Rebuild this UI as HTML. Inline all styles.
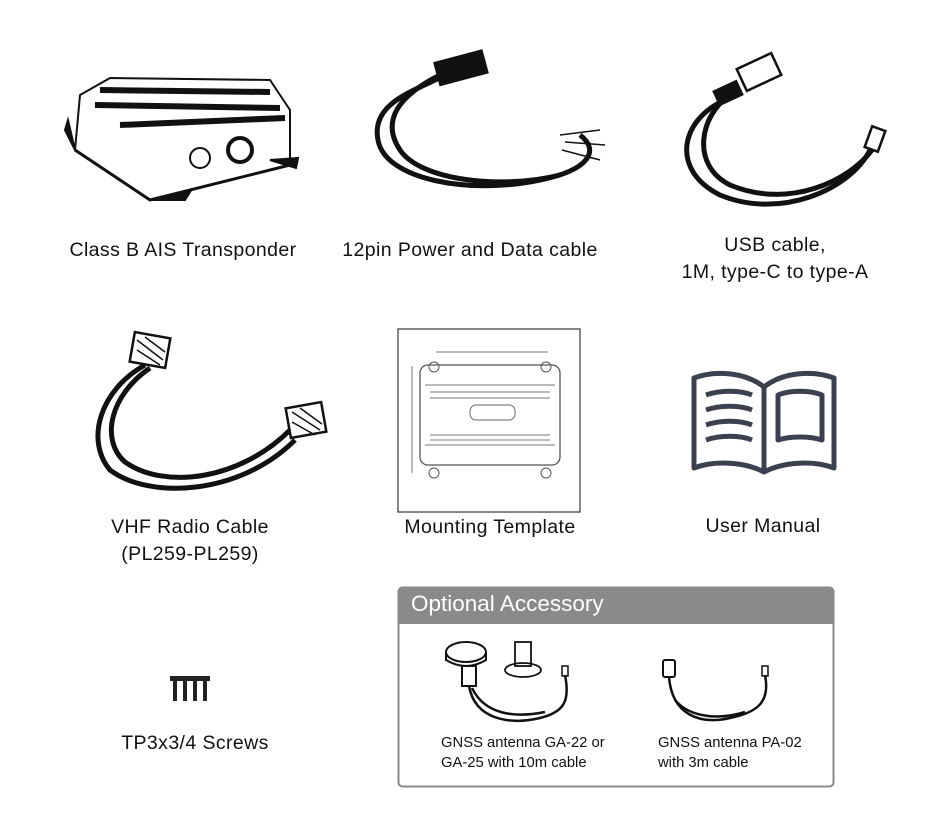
<!DOCTYPE html>
<html><head><style>
body{margin:0;background:#fff;width:930px;height:822px;position:relative;overflow:hidden;font-family:"Liberation Sans",sans-serif;color:#111}
.t{position:absolute;font-size:19.5px;letter-spacing:0.4px;text-align:center;line-height:27px;white-space:nowrap}
.s{position:absolute;font-size:14.8px;line-height:20px;white-space:nowrap}
</style></head><body>
<svg width="930" height="822" style="position:absolute;left:0;top:0" fill="none" stroke="#111">
<!-- transponder -->
<g stroke-width="2">
<path d="M80 95 L110 78 L270 80 L290 110 L290 165 L150 200 L75 150 Z" fill="#fff"/>
<path d="M75 150 L150 200 L290 165" stroke-width="3"/>
<path d="M100 90 L270 92 M95 105 L280 108 M120 125 L285 118" stroke-width="6"/>
<circle cx="200" cy="158" r="10"/><circle cx="240" cy="150" r="12" stroke-width="4"/>
<path d="M68 120 L75 150 L65 130 Z M150 200 L190 192 L185 200 Z M270 160 L298 158 L296 168 Z" fill="#111"/>
</g>
<!-- 12pin cable -->
<g stroke-width="5">
<path d="M455 70 C420 90 370 100 378 140 C385 180 470 195 540 180 C590 170 600 150 580 135"/>
<path d="M440 75 C400 95 380 120 400 150 C420 180 500 190 560 175"/>
<rect x="438" y="58" width="46" height="20" fill="#111" transform="rotate(-15 460 68)"/>
</g>
<path d="M560 135 L600 130 M565 142 L605 145 M562 150 L600 160" stroke-width="1.5"/>
<!-- USB -->
<g stroke-width="5">
<path d="M725 100 C680 120 670 170 720 195 C780 220 850 190 870 150"/>
<path d="M730 95 C700 115 690 165 730 185 C790 210 850 180 872 150"/>
</g>
<rect x="740" y="60" width="38" height="24" fill="#fff" stroke-width="2.5" transform="rotate(-25 759 72)"/>
<rect x="715" y="85" width="26" height="16" fill="#111" transform="rotate(-25 728 93)"/>
<rect x="868" y="128" width="14" height="22" fill="#fff" stroke-width="2.5" transform="rotate(20 875 139)"/>
<!-- VHF -->
<g stroke-width="5">
<path d="M145 365 C100 390 85 440 110 470 C150 500 240 495 295 440"/>
<path d="M150 368 C110 395 100 440 125 462 C165 490 240 480 290 430"/>
</g>
<rect x="132" y="335" width="36" height="30" fill="#fff" stroke-width="2.5" transform="rotate(10 150 350)"/>
<path d="M137 340 L163 360 M137 350 L160 365 M145 337 L165 352" stroke-width="1.5"/>
<rect x="288" y="405" width="36" height="30" fill="#fff" stroke-width="2.5" transform="rotate(-10 306 420)"/>
<path d="M292 412 L320 430 M292 422 L315 435 M300 408 L322 424" stroke-width="1.5"/>
<!-- template -->
<rect x="398" y="329" width="182" height="183" stroke="#444" stroke-width="1.3"/>
<rect x="420" y="365" width="140" height="100" stroke="#555" stroke-width="1.3" rx="8"/>
<path d="M425 385 H555 M425 445 H555 M430 392 H550 M430 398 H550 M430 435 H550 M430 440 H550" stroke="#777"/>
<rect x="470" y="405" width="45" height="15" rx="6" stroke="#666"/>
<circle cx="434" cy="367" r="5" stroke="#555"/><circle cx="546" cy="367" r="5" stroke="#555"/>
<circle cx="434" cy="473" r="5" stroke="#555"/><circle cx="546" cy="473" r="5" stroke="#555"/>
<path d="M436 352 H548 M412 366 V473" stroke="#777"/>
<!-- book -->
<g stroke="#3a4050" stroke-width="5" stroke-linejoin="round">
<path d="M764 387 C745 372 715 370 694 378 V468 C715 460 745 462 764 472 C783 462 813 460 834 468 V378 C813 370 783 372 764 387 Z"/>
<path d="M764 387 V472"/>
<path d="M706 395 C720 390 740 390 752 395 M706 410 C720 405 740 405 752 410 M706 425 C720 420 740 420 752 425 M706 440 C720 435 740 435 752 440"/>
<path d="M778 395 C790 390 810 390 822 395 V440 C810 436 790 436 778 440 Z"/>
</g>
<!-- screws -->
<g fill="#222" stroke="none">
<rect x="170" y="676" width="10" height="5"/><rect x="180" y="676" width="10" height="5"/><rect x="190" y="676" width="10" height="5"/><rect x="200" y="676" width="10" height="5"/>
<rect x="173" y="681" width="4" height="20"/><rect x="183" y="681" width="4" height="20"/><rect x="193" y="681" width="4" height="20"/><rect x="203" y="681" width="4" height="20"/>
</g>
<!-- optional box -->
<rect x="398.5" y="587.5" width="435" height="199" rx="4" stroke="#8a8a8a" stroke-width="2"/>
<path d="M398 624 V591 Q398 587 402 587 H830 Q834 587 834 591 V624 Z" fill="#8a8a8a" stroke="none"/>
<!-- GA antenna -->
<ellipse cx="466" cy="652" rx="20" ry="10" fill="#fff" stroke-width="2"/>
<path d="M446 652 V660 Q466 672 486 660 V652" stroke-width="2"/>
<rect x="462" y="666" width="14" height="20" stroke-width="2"/>
<ellipse cx="523" cy="670" rx="18" ry="7" stroke-width="1.8"/>
<rect x="515" y="642" width="16" height="24" stroke-width="1.8"/>
<path d="M469 686 C475 720 510 725 540 718 C565 712 570 700 565 675" stroke-width="2.5"/>
<path d="M472 688 C485 715 515 718 545 712" stroke-width="2.5"/>
<rect x="562" y="666" width="6" height="10" stroke-width="1.5"/>
<!-- PA antenna -->
<rect x="663" y="660" width="12" height="17" rx="2" stroke-width="2"/>
<path d="M669 677 C672 715 700 725 730 718 C760 712 770 700 765 675" stroke-width="2.5"/>
<path d="M675 700 C690 718 720 720 745 712" stroke-width="2.5"/>
<rect x="762" y="666" width="6" height="10" stroke-width="1.5"/>
</svg>
<div class="t" style="left:53px;top:237px;width:260px">Class B AIS Transponder</div>
<div class="t" style="left:320px;top:237px;width:300px">12pin Power and Data cable</div>
<div class="t" style="left:655px;top:232px;width:240px">USB cable,<br>1M, type-C to type-A</div>
<div class="t" style="left:90px;top:514px;width:200px">VHF Radio Cable<br>(PL259-PL259)</div>
<div class="t" style="left:380px;top:514px;width:220px">Mounting Template</div>
<div class="t" style="left:663px;top:513px;width:200px">User Manual</div>
<div class="t" style="left:95px;top:730px;width:200px">TP3x3/4 Screws</div>
<div style="position:absolute;left:411px;top:589px;font-size:22.5px;color:#fff;line-height:30px">Optional Accessory</div>
<div class="s" style="left:441px;top:733px">GNSS antenna GA-22 or<br>GA-25 with 10m cable</div>
<div class="s" style="left:658px;top:733px">GNSS antenna PA-02<br>with 3m cable</div>
</body></html>
